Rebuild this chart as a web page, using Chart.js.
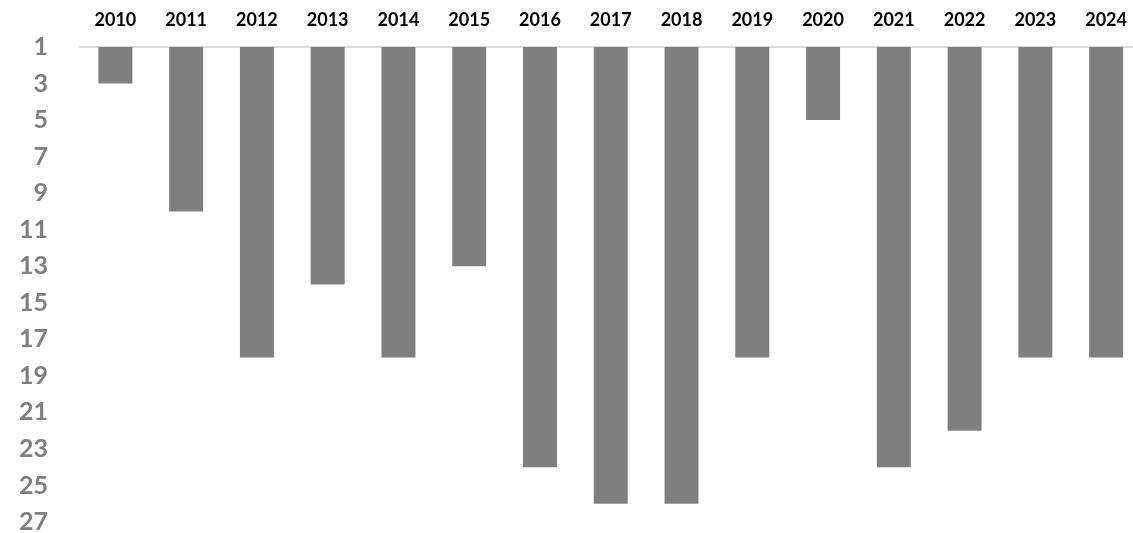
<!DOCTYPE html>
<html>
<head>
<meta charset="utf-8">
<script src="https://cdn.jsdelivr.net/npm/chart.js@4.4.1/dist/chart.umd.min.js"></script>
<style>
  html, body { margin: 0; padding: 0; background: #fff; overflow: hidden; }
  #wrap { width: 1143px; height: 569px; }
</style>
</head>
<body>
<div id="wrap"><canvas id="rankChart"></canvas></div>
<script>
const years = ['2010', '2011', '2012', '2013', '2014', '2015', '2016', '2017', '2018', '2019', '2020', '2021', '2022', '2023', '2024'];
const ranks = [3, 10, 18, 14, 18, 13, 24, 26, 26, 18, 5, 24, 22, 18, 18];
const rankMin = 1;
const rankMax = 27;
const rankStep = 2;

const fontFamily = "Lato, 'Open Sans', sans-serif";

new Chart(document.getElementById('rankChart').getContext('2d'), {
    type: 'bar',
    data: {
        labels: years,
        datasets: [{
            data: ranks,
            backgroundColor: '#7f7f7f',
            categoryPercentage: 1,
            barPercentage: 0.48
        }]
    },
    options: {
        responsive: true,
        maintainAspectRatio: false,
        animation: false,
        layout: { padding: 0 },
        plugins: { legend: { display: false }, tooltip: { enabled: false } },
        scales: {
            x: {
                position: 'top',
                grid: { display: false, drawTicks: false },
                border: { display: true, color: '#d9d9d9', width: 2 },
                ticks: { color: '#000', padding: 16, font: { size: 18, weight: 'bold', family: fontFamily } },
                afterFit: s => { s.height = 47; }
            },
            y: {
                reverse: true,
                min: rankMin,
                max: rankMax,
                grid: { display: false, drawTicks: false },
                border: { display: false },
                ticks: {
                    stepSize: rankStep,
                    color: '#7f7f7f',
                    padding: 32,
                    font: { size: 25, weight: 'bold', family: fontFamily }
                },
                afterFit: s => { s.width = 80; }
            }
        }
    }
});
</script>
</body>
</html>
